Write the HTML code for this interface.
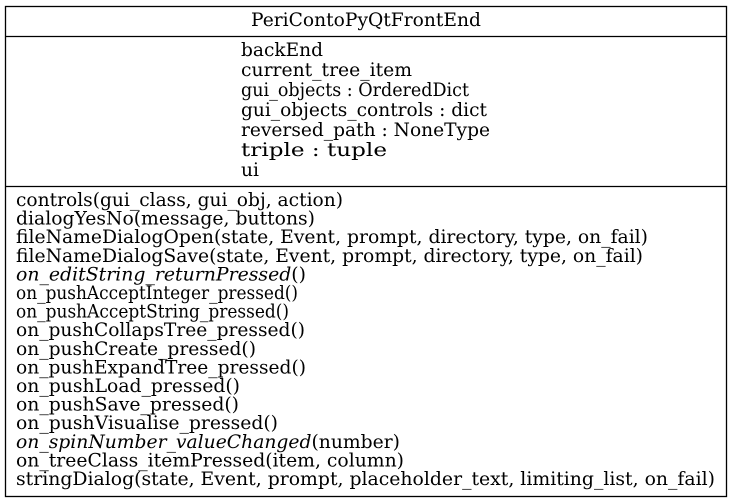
<!DOCTYPE html>
<html><head><meta charset="utf-8"><style>
html,body{margin:0;padding:0;background:#fff;width:732px;height:503px;overflow:hidden}
svg text{font-family:"DejaVu Serif","Liberation Serif",serif;font-size:19px;fill:#000}
</style></head><body>
<svg width="732" height="503">
<rect x="5.5" y="6.5" width="721" height="490" fill="#fff" stroke="#000" stroke-width="1.3"/>
<line x1="5" y1="36.5" x2="727" y2="36.5" stroke="#000" stroke-width="1.3"/>
<line x1="5" y1="186.5" x2="727" y2="186.5" stroke="#000" stroke-width="1.3"/>
<text x="251" y="26" textLength="230" lengthAdjust="spacingAndGlyphs">PeriContoPyQtFrontEnd</text>
<g>
<text x="241" y="56" textLength="82" lengthAdjust="spacingAndGlyphs">backEnd</text>
<text x="241" y="76" textLength="171" lengthAdjust="spacingAndGlyphs">current_tree_item</text>
<text x="241" y="96" textLength="228" lengthAdjust="spacingAndGlyphs">gui_objects : OrderedDict</text>
<text x="241" y="116" textLength="246" lengthAdjust="spacingAndGlyphs">gui_objects_controls : dict</text>
<text x="241" y="136" textLength="249" lengthAdjust="spacingAndGlyphs">reversed_path : NoneType</text>
<text x="241" y="156" textLength="146" lengthAdjust="spacingAndGlyphs">triple : tuple</text>
<text x="241" y="176" textLength="18" lengthAdjust="spacingAndGlyphs">ui</text>
</g>
<g>
<text x="16" y="206" textLength="327" lengthAdjust="spacingAndGlyphs">controls(gui_class, gui_obj, action)</text>
<text x="16" y="224.6" textLength="299" lengthAdjust="spacingAndGlyphs">dialogYesNo(message, buttons)</text>
<text x="16" y="243.2" textLength="632" lengthAdjust="spacingAndGlyphs">fileNameDialogOpen(state, Event, prompt, directory, type, on_fail)</text>
<text x="16" y="261.8" textLength="627" lengthAdjust="spacingAndGlyphs">fileNameDialogSave(state, Event, prompt, directory, type, on_fail)</text>
<text x="16" y="280.4" textLength="290" lengthAdjust="spacingAndGlyphs"><tspan font-style="italic">on_editString_returnPressed</tspan>()</text>
<text x="16" y="299" textLength="282" lengthAdjust="spacingAndGlyphs">on_pushAcceptInteger_pressed()</text>
<text x="16" y="317.6" textLength="273" lengthAdjust="spacingAndGlyphs">on_pushAcceptString_pressed()</text>
<text x="16" y="336.2" textLength="289" lengthAdjust="spacingAndGlyphs">on_pushCollapsTree_pressed()</text>
<text x="16" y="354.8" textLength="240" lengthAdjust="spacingAndGlyphs">on_pushCreate_pressed()</text>
<text x="16" y="373.4" textLength="290" lengthAdjust="spacingAndGlyphs">on_pushExpandTree_pressed()</text>
<text x="16" y="392" textLength="224" lengthAdjust="spacingAndGlyphs">on_pushLoad_pressed()</text>
<text x="16" y="410.6" textLength="223" lengthAdjust="spacingAndGlyphs">on_pushSave_pressed()</text>
<text x="16" y="429.2" textLength="262" lengthAdjust="spacingAndGlyphs">on_pushVisualise_pressed()</text>
<text x="16" y="447.8" textLength="384" lengthAdjust="spacingAndGlyphs"><tspan font-style="italic">on_spinNumber_valueChanged</tspan>(number)</text>
<text x="16" y="466.4" textLength="388" lengthAdjust="spacingAndGlyphs">on_treeClass_itemPressed(item, column)</text>
<text x="16" y="485" textLength="699" lengthAdjust="spacingAndGlyphs">stringDialog(state, Event, prompt, placeholder_text, limiting_list, on_fail)</text>
</g>
</svg>
</body></html>
